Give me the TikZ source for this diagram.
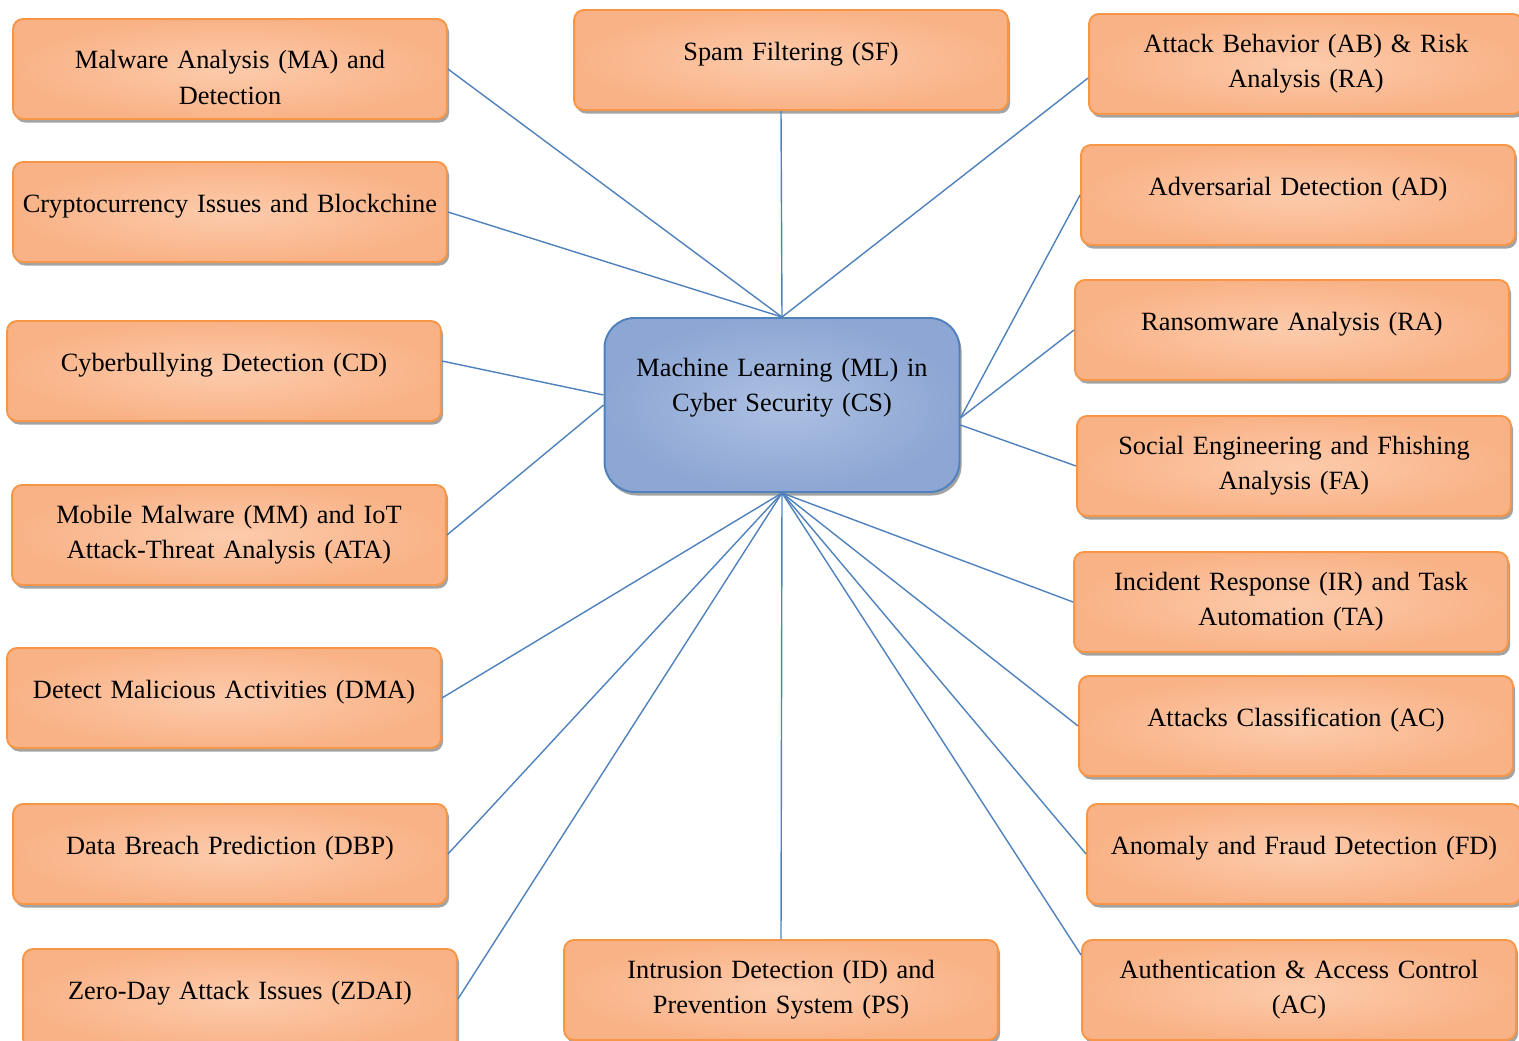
\documentclass[tikz,border=0pt]{standalone}
\usepackage{fontspec}
\setmainfont{Liberation Serif}
\usetikzlibrary{shadows}
\definecolor{boxin}{RGB}{252,203,172}
\definecolor{boxout}{RGB}{249,178,134}
\definecolor{boxline}{RGB}{247,150,70}
\definecolor{mlin}{RGB}{172,192,226}
\definecolor{mlout}{RGB}{141,166,211}
\definecolor{mlline}{RGB}{79,129,189}

\begin{document}
\begin{tikzpicture}[x=0.02cm, y=-0.02cm,
	tstyle/.style={rectangle, rounded corners=0.2cm, draw=boxline, line width=1.1pt,
	inner color=boxin, outer color=boxout,
	drop shadow={shadow xshift=1.2pt, shadow yshift=-2pt, fill=black!45, opacity=0.8},
	minimum width=8.68cm, minimum height=2cm, inner xsep=0.09cm, inner ysep=0pt,
	text width=8.5cm, align=center, text height=1.0cm, text depth=1.0cm,
	font=\fontsize{15}{20}\selectfont},
	ttstyle/.style={tstyle, text height=0.76cm, text depth=1.24cm},
	mlstyle/.style={tstyle, rounded corners=0.6cm, draw=mlline,
	inner color=mlin, outer color=mlout, minimum width=7.1cm, minimum height=3.48cm,
	text width=6.9cm, text height=1.16cm, text depth=2.32cm},
	lstyle/.style={draw=mlline, line width=0.8pt}
	]
	\useasboundingbox (0,0) rectangle (1519,1041);
	
	\node[mlstyle] (ml) at (782,405) {Machine Learning (ML) in\\Cyber Security (CS)};
	
	% left column
	\node[tstyle] (ma) at (230,69) {Malware Analysis (MA) and\\Detection};
	\node[tstyle] (cib) at (230,212) {Cryptocurrency Issues and Blockchine};
	\node[tstyle] (cd) at (224,371) {Cyberbullying Detection (CD)};
	\node[ttstyle] (mm) at (229,535) {Mobile Malware (MM) and IoT\\Attack-Threat Analysis (ATA)};
	\node[tstyle] (dma) at (224,698) {Detect Malicious Activities (DMA)};
	\node[tstyle] (dbp) at (230,854) {Data Breach Prediction (DBP)};
	\node[tstyle] (zdai) at (240,999) {Zero-Day Attack Issues (ZDAI)};
	
	% top and bottom
	\node[tstyle] (sf) at (791,60) {Spam Filtering (SF)};
	\node[ttstyle] (idps) at (781,990) {Intrusion Detection (ID) and\\Prevention System (PS)};
	
	% right column
	\node[ttstyle] (abra) at (1306,64) {Attack Behavior (AB) \& Risk\\Analysis (RA)};
	\node[tstyle] (ad) at (1298,195) {Adversarial Detection (AD)};
	\node[tstyle] (ra) at (1292,330) {Ransomware Analysis (RA)};
	\node[ttstyle] (fa) at (1294,466) {Social Engineering and Fhishing\\Analysis (FA)};
	\node[ttstyle] (irta) at (1291,602) {Incident Response (IR) and Task\\Automation (TA)};
	\node[tstyle] (ac) at (1296,726) {Attacks Classification (AC)};
	\node[tstyle] (fd) at (1304,854) {Anomaly and Fraud Detection (FD)};
	\node[ttstyle] (aac) at (1299,990) {Authentication \& Access Control\\(AC)};
	
	% connectors
	\draw[lstyle] (ma.east) -- (ml.north);
	\draw[lstyle] (cib.east) -- (ml.north);
	\draw[lstyle] ([xshift=-0.2cm]sf.south) -- (ml.north);
	\draw[lstyle] ([yshift=-0.28cm]abra.west) -- (ml.north);
	\draw[lstyle] ([yshift=0.2cm]cd.east) -- ([yshift=0.2cm]ml.west);
	\draw[lstyle] (mm.east) -- (ml.west);
	\draw[lstyle] (ad.west) -- ([yshift=-0.26cm]ml.east);
	\draw[lstyle] (ra.west) -- ([yshift=-0.26cm]ml.east);
	\draw[lstyle] (fa.west) -- ([yshift=-0.4cm]ml.east);
	\draw[lstyle] (dma.east) -- (ml.south);
	\draw[lstyle] (dbp.east) -- (ml.south);
	\draw[lstyle] (zdai.east) -- (ml.south);
	\draw[lstyle] (idps.north) -- (ml.south);
	\draw[lstyle] (irta.west) -- (ml.south);
	\draw[lstyle] (ac.west) -- (ml.south);
	\draw[lstyle] (fd.west) -- (ml.south);
	\draw[lstyle] ([yshift=0.7cm]aac.west) -- (ml.south);
\end{tikzpicture}
\end{document}
